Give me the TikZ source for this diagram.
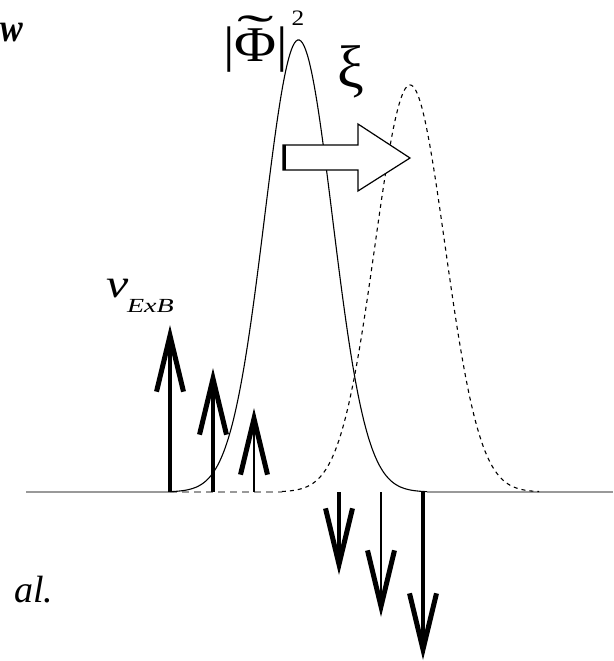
\documentclass[tikz,border=0pt]{standalone}
\usepackage{fontspec}
\usepackage{graphicx}
\setmainfont{Liberation Serif}
\usetikzlibrary{arrows.meta}
\tikzset{
  curve/.style={black, line width=1.1pt},
  shifted/.style={black, line width=1.1pt, dash pattern=on 4pt off 4pt},
  axis/.style={gray!80, line width=1.4pt},
  axisdash/.style={gray!80, line width=1.4pt, dash pattern=on 7pt off 5pt},
  vec/.style={line cap=butt, -{Straight Barb[length=56pt,width=27pt,line width=5pt]}},
  blockarrow/.style={draw=black, fill=white, line width=1.2pt, line join=miter},
  lab/.style={inner sep=0pt, outer sep=0pt}
}
\begin{document}
\begin{tikzpicture}[x=1pt,y=-1pt]
\useasboundingbox (0,0) rectangle (613,661);
% baseline
\coordinate (b0) at (26,492);
\coordinate (b1) at (170,492);
\coordinate (b2) at (282,492);
\coordinate (b3) at (427,492);
\coordinate (b4) at (613,492);
\draw[axis] (b0) -- (b1);
\draw[axisdash] (b1) -- (b2);
\draw[axis] (b3) -- (b4);
% shifted (dashed) profile
\draw[shifted] plot[domain=-3.66:3.69, samples=160, smooth, variable=\u]
  ({410+35*\u},{492-407*exp(-\u*\u/2)});
% original profile
\draw[curve] plot[domain=-3.78:3.78, samples=160, smooth, variable=\u]
  ({298.5+34*\u},{492-452*exp(-\u*\u/2)});
% block arrow (xi)
\draw[blockarrow] (283,145) -- (358,145) -- (358,124) -- (410,158) -- (358,191)
  -- (358,170) -- (283,170) -- cycle;
\draw[line width=2.6pt] (284.5,145) -- (284.5,170);
% upward vectors
\coordinate (u1s) at (170,492); \coordinate (u1e) at (170,325);
\coordinate (u2s) at (213,492); \coordinate (u2e) at (213,368);
\coordinate (u3s) at (254,492); \coordinate (u3e) at (254,408);
\draw[vec, line width=4pt] (u1s) -- (u1e);
\draw[vec, line width=3.5pt] (u2s) -- (u2e);
\draw[vec, line width=2.6pt] (u3s) -- (u3e);
% downward vectors
\coordinate (d1s) at (339,492); \coordinate (d1e) at (339,575);
\coordinate (d2s) at (381,492); \coordinate (d2e) at (381,617);
\coordinate (d3s) at (423,492); \coordinate (d3e) at (423,660);
\draw[vec, line width=3.5pt] (d1s) -- (d1e);
\draw[vec, line width=2pt] (d2s) -- (d2e);
\draw[vec, line width=4pt] (d3s) -- (d3e);
% labels
\node[lab, anchor=base west, font=\fontsize{50}{50}\selectfont, xscale=1.15] (phi) at (223,62)
  {|\ooalign{Φ\cr\hidewidth\raisebox{0.26em}{\scalebox{1.9}[1]{˜}}\hidewidth\cr}|\raisebox{0.72em}{\fontsize{22}{22}\selectfont\hspace{3pt}2}};
\node[lab, anchor=base west, font=\fontsize{60}{60}\selectfont] (xi) at (337,88) {ξ};
\node[lab, anchor=base west, font=\itshape\fontsize{40}{40}\selectfont, xscale=1.25] (v) at (106,297) {v};
\node[lab, anchor=base west, font=\itshape\fontsize{20}{20}\selectfont, xscale=1.4] (exb) at (127,312) {ExB};
\node[lab, anchor=base west, font=\bfseries\itshape\fontsize{40}{40}\selectfont, xscale=0.85] (w) at (0,42) {w};
\node[lab, anchor=base west, font=\itshape\fontsize{38}{38}\selectfont] (al) at (14,602) {al.};
\end{tikzpicture}
\end{document}
